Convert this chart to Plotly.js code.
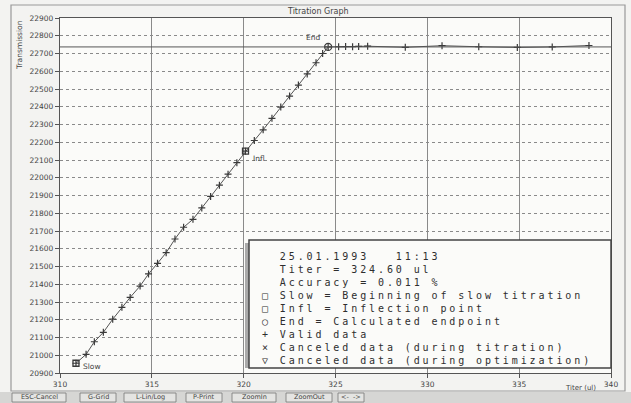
<!DOCTYPE html>
<html>
<head>
<meta charset="utf-8">
<script src="https://cdn.plot.ly/plotly-3.0.1.min.js"></script>
<style>html,body{margin:0;padding:0;background:#f3f3f1;}#chart{width:631px;height:403px;}</style>
</head>
<body>
<div id="chart"></div>
<script>
// ---- data ----
const titer = [310.87, 311.42, 311.87, 312.36, 312.87, 313.37, 313.82, 314.36, 314.82, 315.31,
  315.78, 316.26, 316.73, 317.24, 317.72, 318.20, 318.68, 319.15, 319.63, 320.10,
  320.58, 321.06, 321.54, 322.02, 322.50, 322.98, 323.46, 323.94, 324.30, 324.60,
  325.17, 325.55, 325.93, 326.26, 326.75, 328.80, 330.80, 332.80, 334.90, 336.80, 338.80];
const transmission = [20955, 21005, 21076, 21129, 21203, 21270, 21326, 21390, 21458, 21518,
  21578, 21655, 21721, 21766, 21830, 21895, 21958, 22020, 22085, 22150,
  22210, 22270, 22335, 22398, 22460, 22522, 22585, 22648, 22700, 22737,
  22738, 22739, 22738, 22740, 22741, 22735, 22744, 22738, 22734, 22737, 22745];
const slowPoint = {x: 310.87, y: 20955, label: "Slow"};
const inflPoint = {x: 320.10, y: 22150, label: "Infl"};
const endPoint  = {x: 324.60, y: 22737, label: "End"};
const xTicks = [310, 315, 320, 325, 330, 335, 340];
const yTicks = [20900, 21000, 21100, 21200, 21300, 21400, 21500, 21600, 21700, 21800, 21900,
  22000, 22100, 22200, 22300, 22400, 22500, 22600, 22700, 22800, 22900];
const infoLines = ["25.01.1993   11:13", "Titer = 324.60 ul", "Accuracy = 0.011 %"];
const keyLines = [
  ["\u25A1", "Slow = Beginning of slow titration"],
  ["\u25A1", "Infl = Inflection point"],
  ["\u25CB", "End = Calculated endpoint"],
  ["+", "Valid data"],
  ["\u00D7", "Canceled data (during titration)"],
  ["\u25BD", "Canceled data (during optimization)"]
];
const buttons = ["ESC-Cancel", "G-Grid", "L-Lin/Log", "P-Print", "ZoomIn", "ZoomOut", "<-  ->"];

// ---- pixel helpers for layout placement ----
const L = 60, T = 18, W = 551, H = 355;
const px = x => (x - L) / W;
const py = y => (T + H - y) / H;

const ink = '#3a3a3a';
const traces = [
  {x: titer, y: transmission, mode: 'lines+markers', type: 'scatter',
   line: {color: '#555', width: 1},
   marker: {symbol: 'cross-thin', size: 5, line: {color: ink, width: 1.2}, color: ink},
   hoverinfo: 'skip'},
  {x: [slowPoint.x, inflPoint.x], y: [slowPoint.y, inflPoint.y], mode: 'markers', type: 'scatter',
   marker: {symbol: 'square-open', size: 6, color: ink, line: {color: ink, width: 1.3}}},
  {x: [endPoint.x], y: [endPoint.y], mode: 'markers', type: 'scatter',
   marker: {symbol: 'circle-open', size: 7, color: ink, line: {color: ink, width: 1.3}}}
];

const smallFont = {family: 'DejaVu Sans', size: 7.5, color: '#444'};
const mono = {family: 'DejaVu Sans Mono', size: 10, color: '#2e2e2e'};

const annotations = [];
annotations.push({xref: 'paper', yref: 'paper', x: px(318), y: py(11), xanchor: 'center', yanchor: 'middle',
  text: 'Titration Graph', showarrow: false, font: {family: 'DejaVu Sans', size: 8, color: '#444'}});
annotations.push({xref: 'paper', yref: 'paper', x: px(19), y: 1.0, xanchor: 'center', yanchor: 'top', textangle: -90,
  text: 'Transmission', showarrow: false, font: smallFont});
annotations.push({xref: 'paper', yref: 'paper', x: px(598), y: py(388), xanchor: 'right', yanchor: 'middle',
  text: 'Titer (ul)', showarrow: false, font: {family: 'DejaVu Sans', size: 7, color: '#444'}});
annotations.push({x: slowPoint.x, y: slowPoint.y, xshift: 5, yshift: -3, xanchor: 'left', yanchor: 'middle',
  text: slowPoint.label, showarrow: false, font: smallFont});
annotations.push({x: inflPoint.x, y: inflPoint.y, xshift: 5, yshift: -7, xanchor: 'left', yanchor: 'middle',
  text: inflPoint.label, showarrow: false, font: smallFont});
annotations.push({x: endPoint.x, y: endPoint.y, xshift: -6, yshift: 9, xanchor: 'right', yanchor: 'middle',
  text: endPoint.label, showarrow: false, font: smallFont});

const nb = s => s.replace(/ /g, '\u00A0');
const infoText = infoLines.map(t => nb('  ' + t))
  .concat(keyLines.map(k => nb(k[0] + ' ' + k[1]))).join('<br>');
const infoIndex = annotations.length;
annotations.push({xref: 'paper', yref: 'paper', x: px(260), y: py(249), xanchor: 'left', yanchor: 'top',
  align: 'left', text: infoText, showarrow: false, font: mono});

const btnX = [12, 80, 124, 186, 232, 286, 338];
const btnW = [54, 36, 52, 36, 44, 46, 26];
const shapes = [
  {type: 'rect', xref: 'paper', yref: 'paper', x0: px(11), x1: px(625), y0: py(391), y1: py(5),
   line: {color: '#999', width: 1.2}, layer: 'below'},
  {type: 'line', xref: 'paper', yref: 'y', x0: 0, x1: 1, y0: endPoint.y, y1: endPoint.y,
   line: {color: '#555', width: 1}},
  {type: 'rect', xref: 'paper', yref: 'paper', x0: px(245), x1: px(249), y0: py(368), y1: py(243),
   fillcolor: '#aaa', line: {width: 0}},
  {type: 'rect', xref: 'paper', yref: 'paper', x0: px(249), x1: px(611), y0: py(368), y1: py(240),
   fillcolor: '#fbfbf9', line: {color: '#444', width: 1.5}},
  {type: 'rect', xref: 'paper', yref: 'paper', x0: px(0), x1: px(631), y0: py(403), y1: py(392),
   fillcolor: '#d6d6d4', line: {width: 0}}
];
buttons.forEach((b, i) => {
  shapes.push({type: 'rect', xref: 'paper', yref: 'paper', x0: px(btnX[i]), x1: px(btnX[i] + btnW[i]),
    y0: py(402), y1: py(393), fillcolor: '#e4e4e2', line: {color: '#777', width: 0.8}});
  annotations.push({xref: 'paper', yref: 'paper', x: px(btnX[i] + btnW[i] / 2), y: py(397.5),
    xanchor: 'center', yanchor: 'middle',
    text: b, showarrow: false, font: {family: 'DejaVu Sans', size: 6.5, color: '#444'}});
});

const layout = {
  width: 631, height: 403,
  margin: {l: L, r: 631 - L - W, t: T, b: 403 - T - H, pad: 0},
  paper_bgcolor: '#f3f3f1', plot_bgcolor: '#fbfbf9',
  showlegend: false,
  xaxis: {range: [310, 340], tickvals: xTicks, ticktext: xTicks.map(String),
    showgrid: true, gridcolor: '#8a8a8a', gridwidth: 1,
    showline: true, linecolor: '#555', linewidth: 1.2, mirror: true,
    ticks: 'outside', ticklen: 4, tickcolor: '#555',
    tickfont: {family: 'DejaVu Sans', size: 7.5, color: '#444'}, zeroline: false, fixedrange: true},
  yaxis: {range: [20900, 22900], tickvals: yTicks, ticktext: yTicks.map(String),
    showgrid: true, gridcolor: '#8a8a8a', gridwidth: 1, griddash: 'dot',
    showline: true, linecolor: '#555', linewidth: 1.2, mirror: true,
    ticks: 'outside', ticklen: 4, tickcolor: '#555',
    tickfont: {family: 'DejaVu Sans', size: 7.5, color: '#444'}, zeroline: false, fixedrange: true},
  annotations: annotations,
  shapes: shapes
};

Plotly.newPlot('chart', traces, layout, {staticPlot: true, displayModeBar: false}).then(() => {
  // widen the pixel-font look of the info box text
  const g = document.querySelector('#chart .annotation[data-index="' + infoIndex + '"] text');
  if (g) g.style.letterSpacing = '2.9px';
});
</script>
</body>
</html>
